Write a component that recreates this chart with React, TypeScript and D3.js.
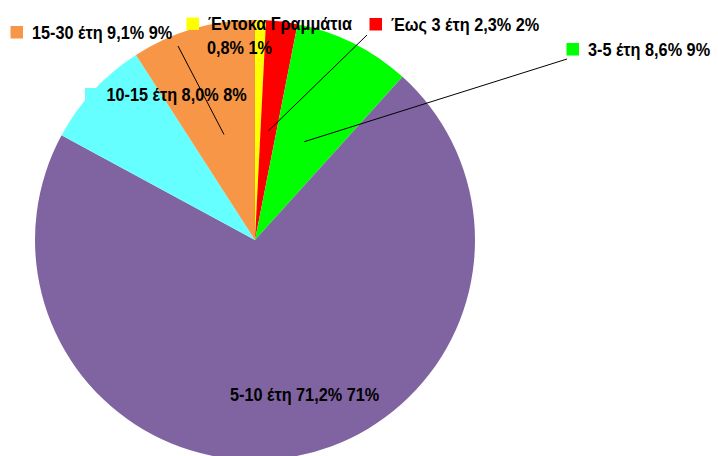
import React from "react";
import * as d3 from "d3";

const categories = ["Έντοκα Γραμμάτια", "Έως 3 έτη", "3-5 έτη", "5-10 έτη", "10-15 έτη", "15-30 έτη"];
const values = [0.8, 2.3, 8.6, 71.2, 8.0, 9.1];
const rounded = ["1%", "2%", "9%", "71%", "8%", "9%"];
const colors = ["#FFFF00", "#FF0000", "#00FF00", "#8064A2", "#66FFFF", "#F79646"];

// label layout: text x, baseline y, optional second line, leader start (or null)
const labelLayout = [
  { x: 208, y: 30, twoLines: true, leader: null as null | [number, number] },
  { x: 391, y: 30.5, twoLines: false, leader: [367, 35] as [number, number] },
  { x: 588, y: 55.5, twoLines: false, leader: [567, 59] as [number, number] },
  { x: 230, y: 400.5, twoLines: false, leader: null },
  { x: 106.5, y: 100.5, twoLines: false, leader: null },
  { x: 32, y: 38.5, twoLines: false, leader: [178, 46] as [number, number] },
];

const W = 718;
const H = 456;
const cx = 255;
const cy = 240;
const R = 220;

function Label({ x, y, children }: { x: number; y: number; children: React.ReactNode }) {
  return (
    <text transform={`translate(${x},${y}) scale(0.93,1)`} x={0} y={0}>
      {children}
    </text>
  );
}

export default function App() {
  const pie = d3.pie<number>().sort(null).value((d) => d)(values);
  const arc = d3.arc<d3.PieArcDatum<number>>().innerRadius(0).outerRadius(R);
  const fmt = (v: number) => v.toFixed(1).replace(".", ",") + "%";
  const font = "'Liberation Sans', Arial, sans-serif";
  return (
    <svg width={W} height={H} style={{ position: "absolute", left: 0, top: 0, background: "#fff" }}>
      <g transform={`translate(${cx},${cy})`}>
        {pie.map((p, i) => (
          <path key={i} d={arc(p) || ""} fill={colors[i]} />
        ))}
      </g>
      {pie.map((p, i) => {
        const L = labelLayout[i];
        if (!L.leader) return null;
        const c = arc.centroid(p);
        return (
          <line key={"l" + i} x1={L.leader[0]} y1={L.leader[1]} x2={cx + c[0]} y2={cy + c[1]} stroke="#000" strokeWidth={1} />
        );
      })}
      {pie.map((p, i) => {
        const L = labelLayout[i];
        const main = `${categories[i]} ${fmt(values[i])} ${rounded[i]}`;
        return (
          <g key={"t" + i} fontFamily={font} fontWeight="bold" fontSize={17.5} fill="#000">
            <rect x={L.x - 21.5} y={L.y - 12.5} width={12.5} height={12.5} fill={colors[i]} />
            {L.twoLines ? (
              <>
                <Label x={L.x} y={L.y}>{categories[i]}</Label>
                <Label x={L.x - 1} y={L.y + 24}>{`${fmt(values[i])} ${rounded[i]}`}</Label>
              </>
            ) : (
              <Label x={L.x} y={L.y}>{main}</Label>
            )}
          </g>
        );
      })}
    </svg>
  );
}
